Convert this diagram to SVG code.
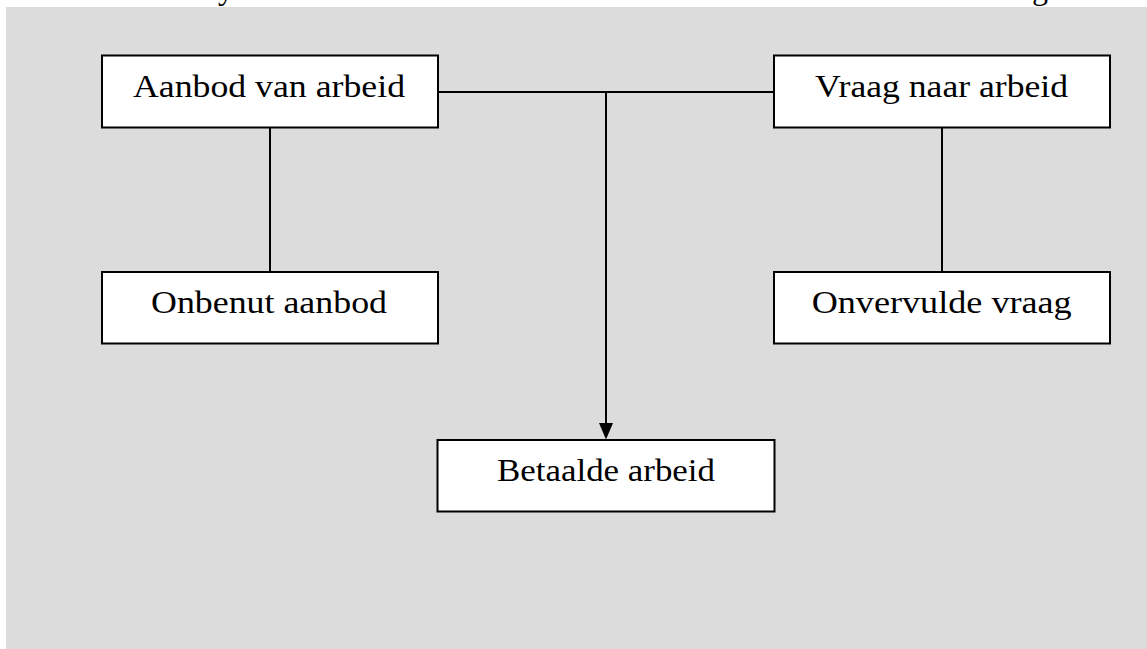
<svg xmlns="http://www.w3.org/2000/svg" width="1147" height="649" viewBox="0 0 1147 649">
<defs>
<style>
.box{fill:#ffffff;stroke:#000000;stroke-width:2}
.lbl{font-family:"Liberation Serif","Times New Roman",serif;font-size:32px;fill:#000000;text-anchor:middle}
.con{stroke:#000000;stroke-width:2;fill:none}
</style>
</defs>
<rect x="0" y="0" width="1147" height="649" fill="#ffffff"/>
<rect x="6" y="7" width="1141" height="642" fill="#dcdcdc"/>
<g id="cutoff-text">
<text class="lbl" x="226" y="-1">y</text>
<text class="lbl" x="1040" y="-1">g</text>
</g>
<g id="connectors">
<line class="con" x1="438" y1="92" x2="774" y2="92"/>
<line class="con" x1="270" y1="127" x2="270" y2="272"/>
<line class="con" x1="942" y1="127" x2="942" y2="272"/>
<path class="con" d="M606,92 L606,423"/>
<path d="M599,423 L613,423 L606,439.5 Z" fill="#000000"/>
</g>
<g id="aanbod">
<rect class="box" x="102" y="55.5" width="336" height="72"/>
<text class="lbl" x="269" y="97" textLength="272" lengthAdjust="spacingAndGlyphs">Aanbod van arbeid</text>
</g>
<g id="vraag">
<rect class="box" x="774" y="55.5" width="336" height="72"/>
<text class="lbl" x="941.5" y="97" textLength="253" lengthAdjust="spacingAndGlyphs">Vraag naar arbeid</text>
</g>
<g id="onbenut">
<rect class="box" x="102" y="272" width="336" height="71.5"/>
<text class="lbl" x="269" y="313" textLength="236" lengthAdjust="spacingAndGlyphs">Onbenut aanbod</text>
</g>
<g id="onvervulde">
<rect class="box" x="774" y="272" width="336" height="71.5"/>
<text class="lbl" x="941.7" y="313" textLength="260" lengthAdjust="spacingAndGlyphs">Onvervulde vraag</text>
</g>
<g id="betaalde">
<rect class="box" x="437.5" y="440" width="337" height="71.5"/>
<text class="lbl" x="606" y="481" textLength="218" lengthAdjust="spacingAndGlyphs">Betaalde arbeid</text>
</g>
</svg>
